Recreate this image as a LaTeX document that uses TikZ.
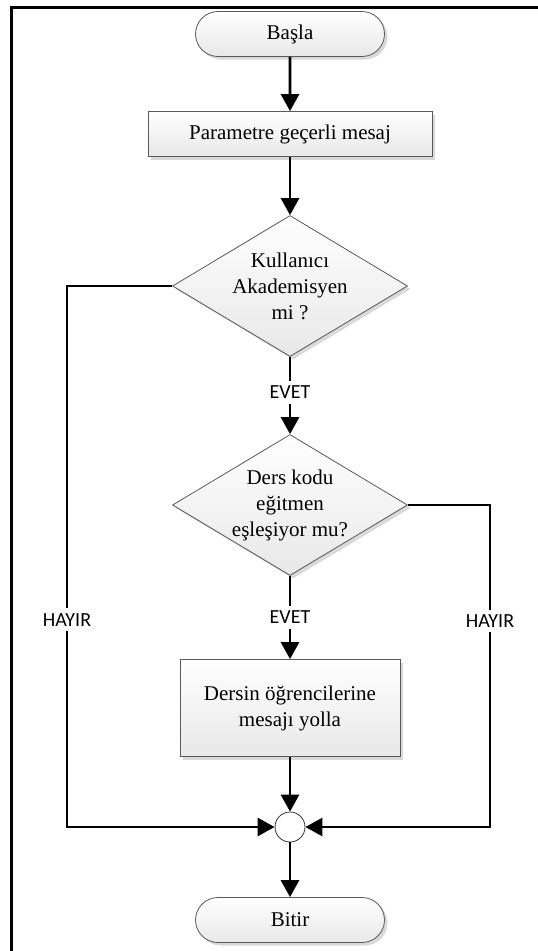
\documentclass[tikz,border=0pt]{standalone}
\usepackage{fontspec}
\setmainfont{Liberation Serif}
\newfontfamily\lblfont{Carlito}
\usetikzlibrary{shapes.geometric,shapes.misc,arrows.meta,shadows}

\tikzset{
  shapebase/.style={draw=black!65, line width=0.8pt, font=\fontsize{21}{26}\selectfont,
    align=center, top color=white, bottom color=black!9,
    drop shadow={shadow xshift=3pt, shadow yshift=-3pt, fill=black!25, opacity=0.6}},
  term/.style={shapebase, rounded rectangle, minimum width=189pt, minimum height=45pt, inner sep=0pt},
  proc/.style={shapebase, rectangle, inner sep=0pt},
  dia/.style={shapebase, diamond, aspect=1.667, inner sep=0pt,
    minimum width=235pt, minimum height=141pt},
  joint/.style={circle, draw=black!80, line width=0.8pt, fill=white, minimum size=30pt, inner sep=0pt},
  conn/.style={line width=2.8pt, -{Triangle[length=17pt,width=18pt]}},
  lbl/.style={fill=white, font=\lblfont\fontsize{20}{24}\selectfont, inner sep=5pt},
  frame/.style={line width=3pt}
}

\begin{document}
\begin{tikzpicture}[x=1pt,y=-1pt]
  \useasboundingbox (0,0) rectangle (538,951);

  % outer frame edges
  \coordinate (ftl) at (11,7);
  \coordinate (ftr) at (538,7);
  \coordinate (fbl) at (11,951);
  \draw[frame] (ftr) -- (ftl) -- (fbl);

  % shapes
  \node[term] (start) at (290,34) {Başla};
  \node[proc, minimum width=284pt, minimum height=45pt] (param) at (290,134) {Parametre geçerli mesaj};
  \node[dia] (d1) at (290,286) {Kullanıcı\\Akademisyen\\mi ?};
  \node[dia] (d2) at (290,505) {Ders kodu\\eğitmen\\eşleşiyor mu?};
  \node[proc, minimum width=220pt, minimum height=97pt] (send) at (290,708) {Dersin öğrencilerine\\mesajı yolla};
  \node[joint] (m) at (290,827) {};
  \node[term] (stop) at (290,920) {Bitir};

  % bend points of the side branches
  \coordinate (lb1) at (67,286);
  \coordinate (lb2) at (67,827);
  \coordinate (rb1) at (490,505);
  \coordinate (rb2) at (490,827);

  % connectors
  \draw[conn] (start) -- (param);
  \draw[conn] (param) -- (d1);
  \draw[conn] (d1.south) -- node[lbl, pos=0.46] {EVET} (d2.north);
  \draw[conn] (d2.south) -- node[lbl, pos=0.5] {EVET} (send.north);
  \draw[conn] (send) -- (m);
  \draw[conn] (m) -- (stop);
  \draw[conn] (d1.west) -- (lb1) -- node[lbl, pos=0.617] {HAYIR} (lb2) -- (m.west);
  \draw[conn] (d2.east) -- (rb1) -- node[lbl, pos=0.36] {HAYIR} (rb2) -- (m.east);
\end{tikzpicture}
\end{document}
